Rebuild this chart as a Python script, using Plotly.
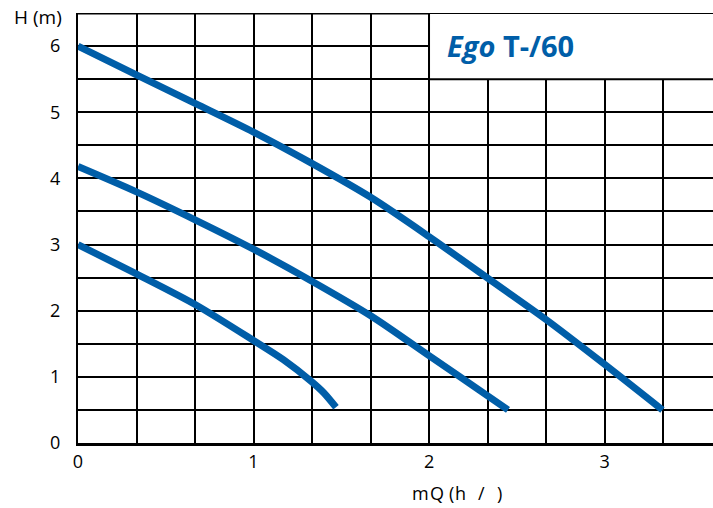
import plotly.graph_objects as go

# ---- data ----
q_high = [0, 0.33, 0.67, 1.0, 1.33, 1.67, 2.0, 2.33, 2.67, 3.0, 3.33]
h_high = [6.0, 5.57, 5.13, 4.70, 4.23, 3.71, 3.12, 2.50, 1.86, 1.19, 0.5]

q_mid = [0, 0.33, 0.67, 1.0, 1.33, 1.67, 2.0, 2.33, 2.45]
h_mid = [4.18, 3.80, 3.37, 2.93, 2.45, 1.92, 1.32, 0.72, 0.5]

q_low = [0, 0.33, 0.67, 1.0, 1.17, 1.33, 1.4, 1.47]
h_low = [3.0, 2.56, 2.09, 1.55, 1.26, 0.93, 0.76, 0.54]

x_ticks = [0, 1, 2, 3]
y_ticks = [0, 1, 2, 3, 4, 5, 6]
title_text = "<b><i>Ego</i> T-/60</b>"
y_title = "H (m)"

BLUE = "rgb(0,94,168)"
W, H = 713, 508
L, R, T, B = 78, 0, 13, 65
PW, PH = W - L - R, H - T - B
X_MAX = 3.618
Y_MAX = 6.5


def px(x):
    return (x - L) / PW


def py(y):
    return (H - B - y) / PH


fig = go.Figure()
for q, h in [(q_high, h_high), (q_mid, h_mid), (q_low, h_low)]:
    fig.add_trace(go.Scatter(
        x=q, y=h, mode="lines",
        line=dict(color=BLUE, width=7, shape="spline", smoothing=0.8),
        showlegend=False, hoverinfo="skip",
    ))

font = dict(family="Open Sans", size=18, color="black")

fig.update_layout(
    width=W, height=H,
    margin=dict(l=L, r=R, t=T, b=B),
    paper_bgcolor="white", plot_bgcolor="white",
    xaxis=dict(
        range=[0, X_MAX], tickvals=x_ticks, ticktext=[str(v) for v in x_ticks],
        showgrid=True, gridcolor="black", gridwidth=2,
        minor=dict(dtick=1 / 3, tick0=0, showgrid=True, gridcolor="black", gridwidth=2),
        showline=True, linecolor="black", linewidth=3,
        zeroline=False, ticks="", tickfont=font,
    ),
    yaxis=dict(
        range=[0, Y_MAX], tickvals=y_ticks, ticktext=[str(v) for v in y_ticks],
        showgrid=True, gridcolor="black", gridwidth=2,
        minor=dict(dtick=0.5, tick0=0, showgrid=True, gridcolor="black", gridwidth=2),
        showline=True, linecolor="black", linewidth=2,
        zeroline=False, ticks="", tickfont=font, ticklabelstandoff=12,
    ),
)

# top border line
fig.add_shape(type="line", xref="x", yref="y", x0=0, x1=X_MAX + 0.1, y0=Y_MAX, y1=Y_MAX,
              line=dict(color="black", width=3), layer="above")
# white title box
fig.add_shape(type="rect", xref="x", yref="y", x0=2, x1=X_MAX + 0.2, y0=5.5, y1=Y_MAX,
              fillcolor="white", line=dict(color="black", width=2), layer="above")

fig.add_annotation(text=title_text, xref="paper", yref="paper", x=px(445), y=py(45),
                   xanchor="left", yanchor="middle", showarrow=False,
                   font=dict(family="Open Sans", size=29, color=BLUE))

fig.add_annotation(text=y_title, xref="paper", yref="paper", x=px(12), y=py(17),
                   xanchor="left", yanchor="middle", showarrow=False,
                   font=dict(family="Open Sans", size=19, color="black"))

# x-axis label pieces, spaced as in the reference
pieces = [("m", 420, 18), ("Q", 437, 18), ("(", 451, 18), ("h", 460, 18), ("/", 481, 18), (")", 499, 18)]
for txt, cx, sz in pieces:
    fig.add_annotation(text=txt, xref="paper", yref="paper", x=px(cx), y=py(493),
                       xanchor="center", yanchor="middle", showarrow=False,
                       font=dict(family="Open Sans", size=sz, color="black"))

fig.write_html("out.html")
